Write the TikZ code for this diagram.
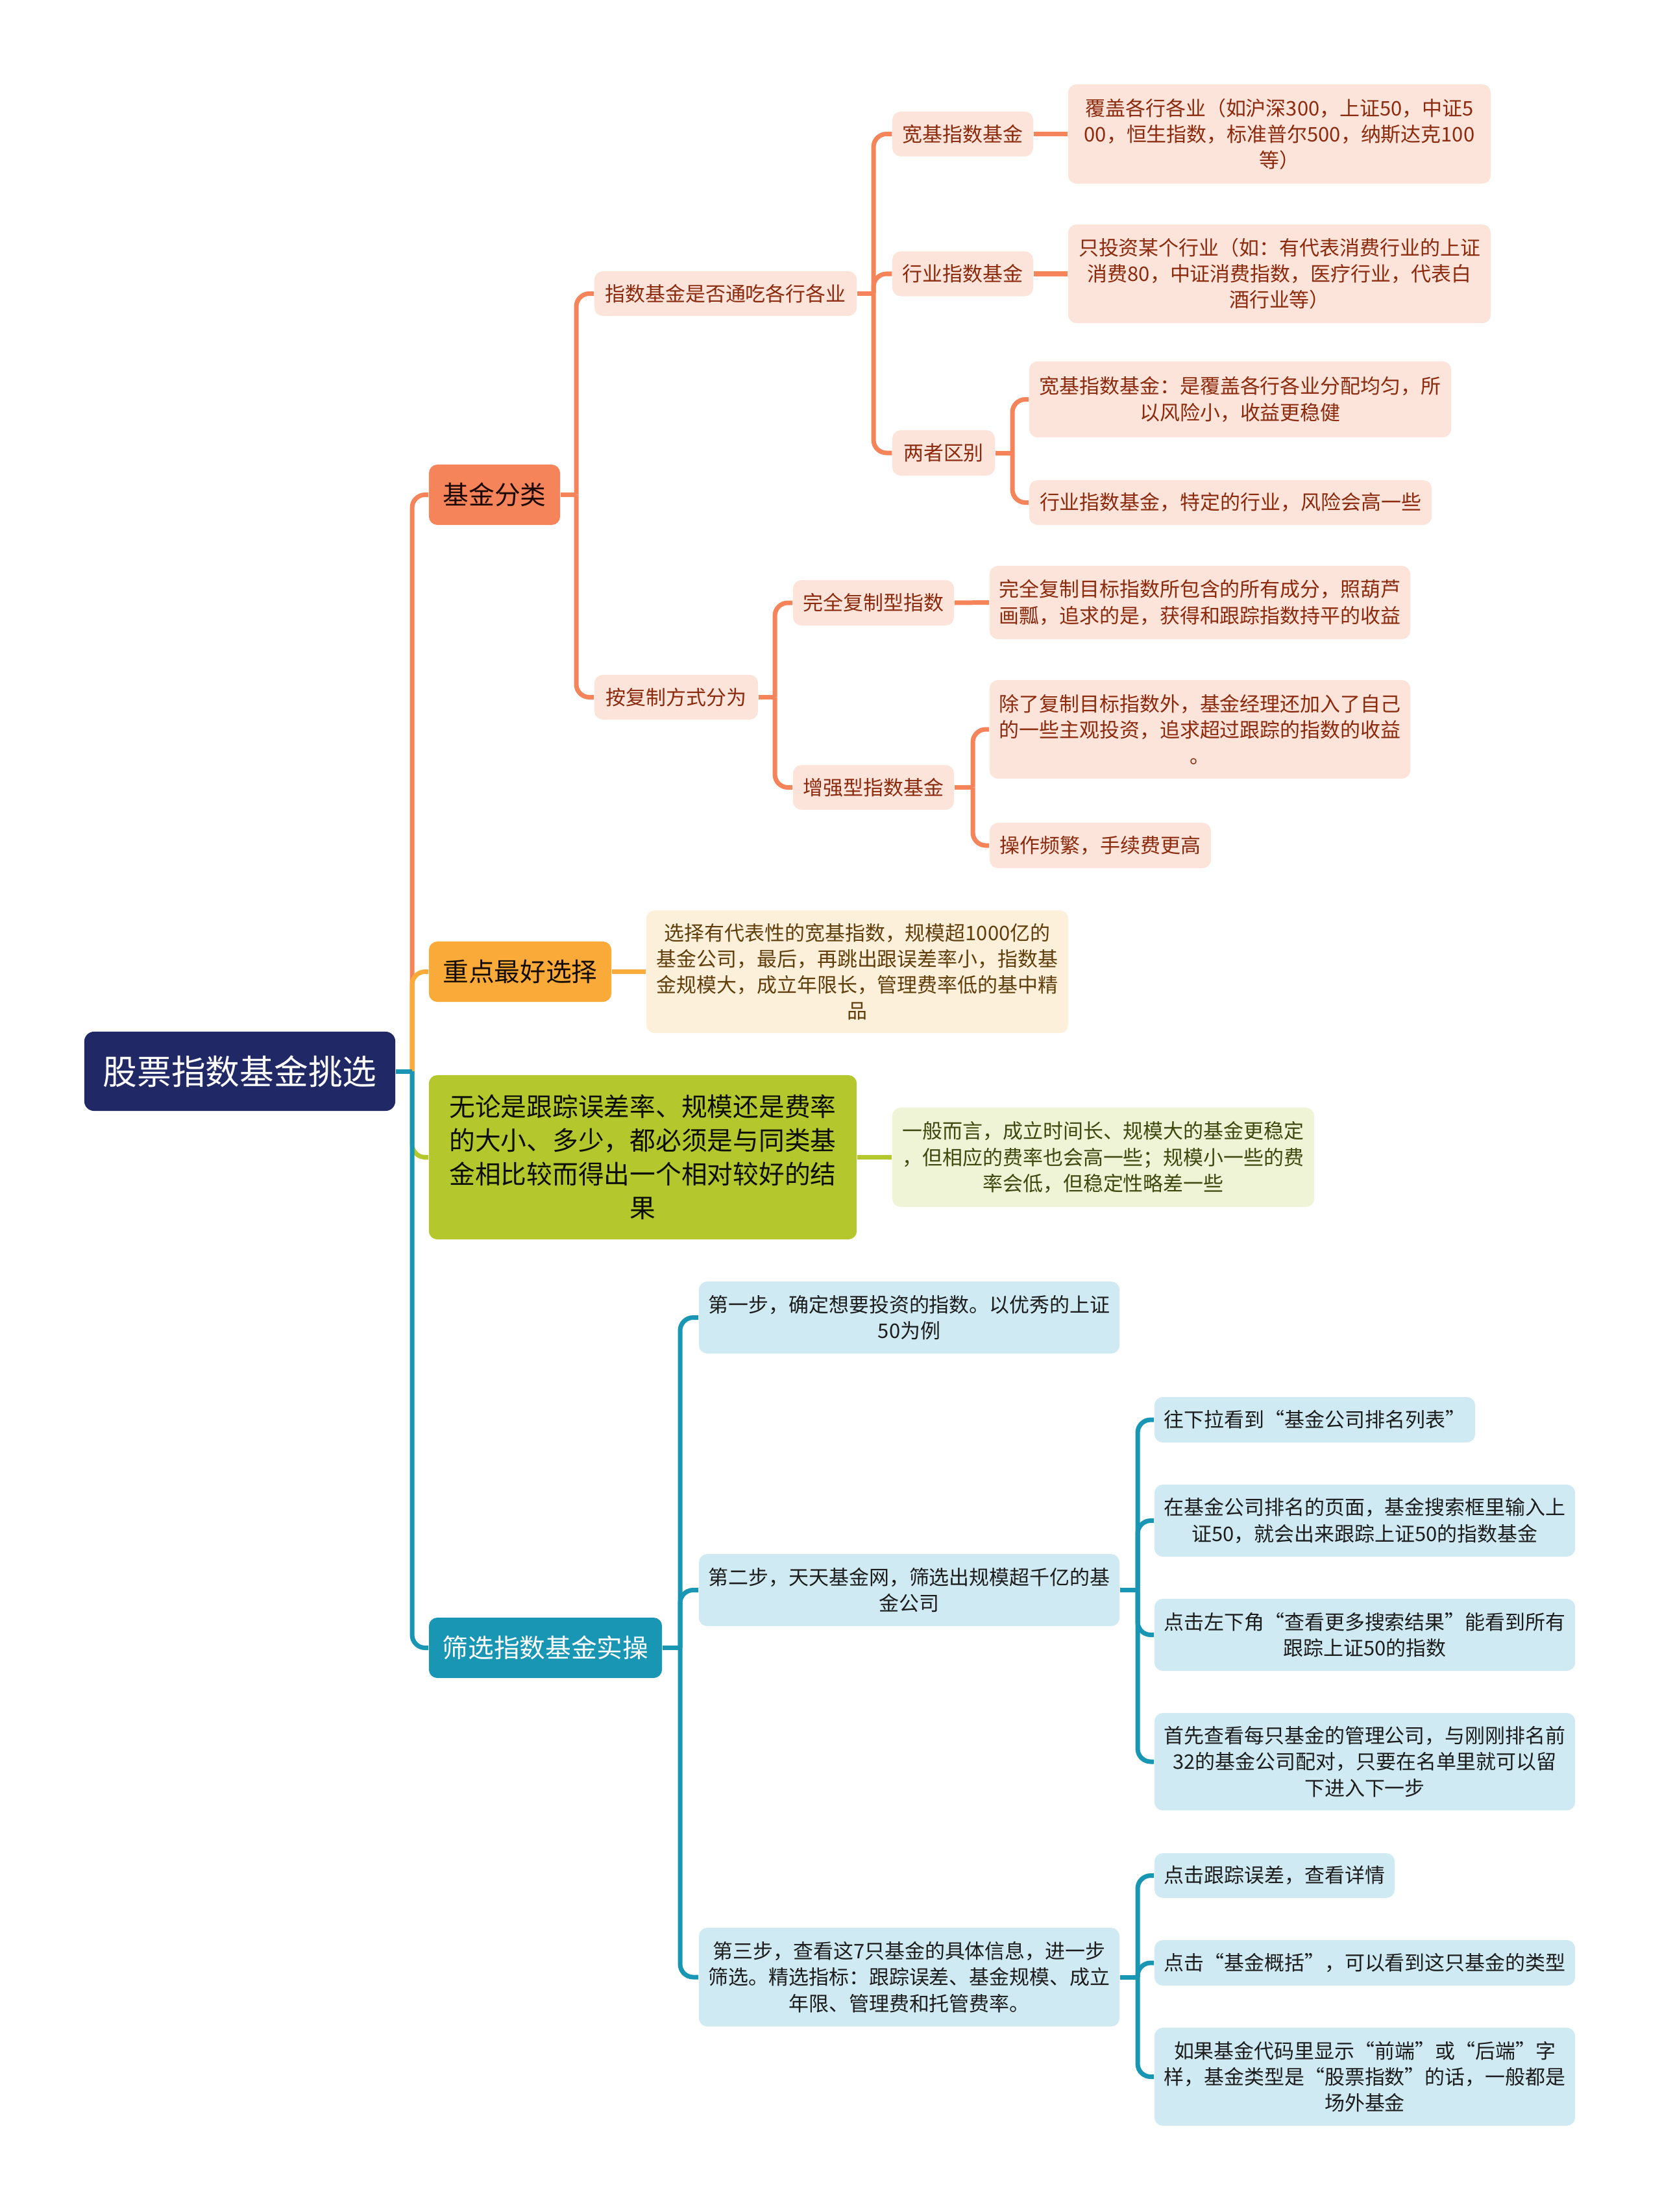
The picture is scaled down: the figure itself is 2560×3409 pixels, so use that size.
\documentclass[tikz,border=0pt]{standalone}
\usepackage{fontspec}
\setmainfont{Noto Sans CJK SC}
\definecolor{cRoot}{RGB}{33,40,102}
\definecolor{cCoral}{RGB}{246,132,90}
\definecolor{cCoralLeaf}{RGB}{252,228,218}
\definecolor{cCoralTxt}{RGB}{140,42,14}
\definecolor{cAmber}{RGB}{249,170,56}
\definecolor{cAmberLeaf}{RGB}{253,240,218}
\definecolor{cAmberTxt}{RGB}{96,62,12}
\definecolor{cLime}{RGB}{180,199,45}
\definecolor{cLimeLeaf}{RGB}{240,244,214}
\definecolor{cLimeTxt}{RGB}{62,72,14}
\definecolor{cTeal}{RGB}{24,150,180}
\definecolor{cTealLeaf}{RGB}{207,234,242}
\definecolor{cTealTxt}{RGB}{28,28,28}
\tikzset{
  box/.style={rounded corners=0.13cm, align=center, inner sep=0pt,
    font=\fontsize{8.8}{11.4}\selectfont},
  bigbox/.style={box, font=\fontsize{11.3}{14.8}\selectfont},
  link/.style={line width=0.07cm, rounded corners=0.2cm},
}
\begin{document}
\begin{tikzpicture}[x=0.01cm,y=-0.01cm]
\useasboundingbox (0,0) rectangle (2560,3409);

\node[box, fill=cRoot, text=white, rounded corners=0.15cm, font=\fontsize{15}{18}\selectfont,
  minimum width=4.79cm, minimum height=1.22cm] (root) at (369.5,1651) {股票指数基金挑选};

% first level
\node[bigbox, fill=cCoral, text=black!80!cCoralTxt, minimum width=2.02cm, minimum height=0.93cm] (fenlei) at (762,762.5) {基金分类};
\node[bigbox, fill=cAmber, text=black!80!cAmberTxt, minimum width=2.81cm, minimum height=0.93cm] (zhongdian) at (801.5,1497.5) {重点最好选择};
\node[bigbox, fill=cLime, text=black!80!cLimeTxt, minimum width=6.59cm, minimum height=2.53cm] (wulun) at (990.5,1783.5) {无论是跟踪误差率、规模还是费率\\的大小、多少，都必须是与同类基\\金相比较而得出一个相对较好的结\\果};
\node[bigbox, fill=cTeal, text=white, minimum width=3.59cm, minimum height=0.93cm] (shaixuan) at (840.5,2539.5) {筛选指数基金实操};

% 基金分类
\node[box, fill=cCoralLeaf, text=cCoralTxt, minimum width=4.04cm, minimum height=0.69cm] (tongchi) at (1118,452.5) {指数基金是否通吃各行各业};
\node[box, fill=cCoralLeaf, text=cCoralTxt, minimum width=2.52cm, minimum height=0.69cm] (fuzhi) at (1042,1074.5) {按复制方式分为};

\node[box, fill=cCoralLeaf, text=cCoralTxt, minimum width=2.17cm, minimum height=0.69cm] (kuanji) at (1483.5,206.5) {宽基指数基金};
\node[box, fill=cCoralLeaf, text=cCoralTxt, minimum width=2.17cm, minimum height=0.69cm] (hangye) at (1483.5,422) {行业指数基金};
\node[box, fill=cCoralLeaf, text=cCoralTxt, minimum width=1.58cm, minimum height=0.70cm] (qubie) at (1454,698) {两者区别};

\node[box, fill=cCoralLeaf, text=cCoralTxt, minimum width=6.51cm, minimum height=1.53cm] (fugai) at (1971.5,206.5) {覆盖各行各业（如沪深300，上证50，中证5\\00，恒生指数，标准普尔500，纳斯达克100\\等）};
\node[box, fill=cCoralLeaf, text=cCoralTxt, minimum width=6.51cm, minimum height=1.52cm] (zhitou) at (1971.5,422) {只投资某个行业（如：有代表消费行业的上证\\消费80，中证消费指数，医疗行业，代表白\\酒行业等）};
\node[box, fill=cCoralLeaf, text=cCoralTxt, minimum width=6.50cm, minimum height=1.17cm] (qbkuan) at (1911,615.5) {宽基指数基金：是覆盖各行各业分配均匀，所\\以风险小，收益更稳健};
\node[box, fill=cCoralLeaf, text=cCoralTxt, minimum width=6.20cm, minimum height=0.69cm] (qbhang) at (1896,774.5) {行业指数基金，特定的行业，风险会高一些};

\node[box, fill=cCoralLeaf, text=cCoralTxt, minimum width=2.48cm, minimum height=0.70cm] (wanquan) at (1346,929) {完全复制型指数};
\node[box, fill=cCoralLeaf, text=cCoralTxt, minimum width=2.48cm, minimum height=0.69cm] (zengqiang) at (1346,1213.5) {增强型指数基金};
\node[box, fill=cCoralLeaf, text=cCoralTxt, minimum width=6.48cm, minimum height=1.13cm] (wqtext) at (1849,928.5) {完全复制目标指数所包含的所有成分，照葫芦\\画瓢，追求的是，获得和跟踪指数持平的收益};
\node[box, fill=cCoralLeaf, text=cCoralTxt, minimum width=6.48cm, minimum height=1.52cm] (chule) at (1849,1124) {除了复制目标指数外，基金经理还加入了自己\\的一些主观投资，追求超过跟踪的指数的收益\\。};
\node[box, fill=cCoralLeaf, text=cCoralTxt, minimum width=3.41cm, minimum height=0.70cm] (caozuo) at (1695.5,1303) {操作频繁，手续费更高};

% 重点最好选择, 无论是
\node[box, fill=cAmberLeaf, text=cAmberTxt, minimum width=6.50cm, minimum height=1.89cm] (xuanze) at (1321,1497.5) {选择有代表性的宽基指数，规模超1000亿的\\基金公司，最后，再跳出跟误差率小，指数基\\金规模大，成立年限长，管理费率低的基中精\\品};
\node[box, fill=cLimeLeaf, text=cLimeTxt, minimum width=6.50cm, minimum height=1.53cm] (yiban) at (1700,1783.5) {一般而言，成立时间长、规模大的基金更稳定\\，但相应的费率也会高一些；规模小一些的费\\率会低，但稳定性略差一些};

% 筛选指数基金实操
\node[box, fill=cTealLeaf, text=cTealTxt, minimum width=6.48cm, minimum height=1.11cm] (step1) at (1401,2030.5) {第一步，确定想要投资的指数。以优秀的上证\\50为例};
\node[box, fill=cTealLeaf, text=cTealTxt, minimum width=6.48cm, minimum height=1.11cm] (step2) at (1401,2450.5) {第二步，天天基金网，筛选出规模超千亿的基\\金公司};
\node[box, fill=cTealLeaf, text=cTealTxt, minimum width=6.48cm, minimum height=1.52cm] (step3) at (1401,3047) {第三步，查看这7只基金的具体信息，进一步\\筛选。精选指标：跟踪误差、基金规模、成立\\年限、管理费和托管费率。};

\node[box, fill=cTealLeaf, text=cTealTxt, minimum width=4.94cm, minimum height=0.70cm] (s2a) at (2026,2188) {往下拉看到“基金公司排名列表”};
\node[box, fill=cTealLeaf, text=cTealTxt, minimum width=6.48cm, minimum height=1.11cm] (s2b) at (2103,2343.5) {在基金公司排名的页面，基金搜索框里输入上\\证50，就会出来跟踪上证50的指数基金};
\node[box, fill=cTealLeaf, text=cTealTxt, minimum width=6.48cm, minimum height=1.11cm] (s2c) at (2103,2519.5) {点击左下角“查看更多搜索结果”能看到所有\\跟踪上证50的指数};
\node[box, fill=cTealLeaf, text=cTealTxt, minimum width=6.48cm, minimum height=1.50cm] (s2d) at (2103,2715) {首先查看每只基金的管理公司，与刚刚排名前\\32的基金公司配对，只要在名单里就可以留\\下进入下一步};
\node[box, fill=cTealLeaf, text=cTealTxt, minimum width=3.70cm, minimum height=0.69cm] (s3a) at (1964,2890.5) {点击跟踪误差，查看详情};
\node[box, fill=cTealLeaf, text=cTealTxt, minimum width=6.48cm, minimum height=0.70cm] (s3b) at (2103,3025) {点击“基金概括”，可以看到这只基金的类型};
\node[box, fill=cTealLeaf, text=cTealTxt, minimum width=6.48cm, minimum height=1.51cm] (s3c) at (2103,3200.5) {如果基金代码里显示“前端”或“后端”字\\样，基金类型是“股票指数”的话，一般都是\\场外基金};

% junctions
\coordinate (j0) at (635,1651);
\coordinate (jfl) at (888,762.5);
\coordinate (jtc) at (1346,452.5);
\coordinate (jqb) at (1560,698);
\coordinate (jfz) at (1194,1074.5);
\coordinate (jzq) at (1499,1213.5);
\coordinate (jsx) at (1048,2539.5);
\coordinate (js2) at (1753,2450.5);
\coordinate (js3) at (1753,3047);

% connectors
\draw[link, cCoral] (j0) |- (fenlei.west);
\draw[link, cAmber] (j0) |- (zhongdian.west);
\draw[link, cLime] (j0) |- (wulun.west);
\draw[link, cTeal] (j0) |- (shaixuan.west);
\draw[link, cTeal] (root.east) -- (j0);

\draw[link, cCoral] (fenlei.east) -- (jfl);
\draw[link, cCoral] (jfl) |- (tongchi.west);
\draw[link, cCoral] (jfl) |- (fuzhi.west);
\draw[link, cCoral] (tongchi.east) -- (jtc);
\draw[link, cCoral] (jtc) |- (kuanji.west);
\draw[link, cCoral] (jtc) |- (hangye.west);
\draw[link, cCoral] (jtc) |- (qubie.west);
\draw[link, cCoral] (kuanji.east) -- (fugai.west);
\draw[link, cCoral] (hangye.east) -- (zhitou.west);
\draw[link, cCoral] (qubie.east) -- (jqb);
\draw[link, cCoral] (jqb) |- (qbkuan.west);
\draw[link, cCoral] (jqb) |- (qbhang.west);
\draw[link, cCoral] (fuzhi.east) -- (jfz);
\draw[link, cCoral] (jfz) |- (wanquan.west);
\draw[link, cCoral] (jfz) |- (zengqiang.west);
\draw[link, cCoral] (wanquan.east) -- (wqtext.west);
\draw[link, cCoral] (zengqiang.east) -- (jzq);
\draw[link, cCoral] (jzq) |- (chule.west);
\draw[link, cCoral] (jzq) |- (caozuo.west);

\draw[link, cAmber] (zhongdian.east) -- (xuanze.west);
\draw[link, cLime] (wulun.east) -- (yiban.west);

\draw[link, cTeal] (shaixuan.east) -- (jsx);
\draw[link, cTeal] (jsx) |- (step1.west);
\draw[link, cTeal] (jsx) |- (step2.west);
\draw[link, cTeal] (jsx) |- (step3.west);
\draw[link, cTeal] (step2.east) -- (js2);
\draw[link, cTeal] (js2) |- (s2a.west);
\draw[link, cTeal] (js2) |- (s2b.west);
\draw[link, cTeal] (js2) |- (s2c.west);
\draw[link, cTeal] (js2) |- (s2d.west);
\draw[link, cTeal] (step3.east) -- (js3);
\draw[link, cTeal] (js3) |- (s3a.west);
\draw[link, cTeal] (js3) |- (s3b.west);
\draw[link, cTeal] (js3) |- (s3c.west);
\end{tikzpicture}
\end{document}
